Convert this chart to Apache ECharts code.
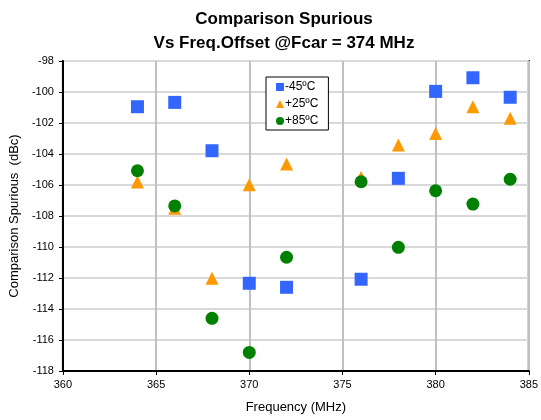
<!DOCTYPE html>
<html>
<head>
<meta charset="utf-8">
<script src="https://cdn.jsdelivr.net/npm/echarts@6/dist/echarts.min.js"></script>
<style>
  html, body { margin: 0; padding: 0; background: #fff; }
  #chart { width: 541px; height: 420px; }
</style>
</head>
<body>
<div id="chart"></div>
<script>
const freqs = [364, 366, 368, 370, 372, 376, 378, 380, 382, 384];
const minus45 = [-100.95, -100.67, -103.79, -112.34, -112.6, -112.08, -105.57, -99.96, -99.08, -100.34];
const plus25 = [-105.8, -107.5, -112.02, -105.98, -104.65, -105.5, -103.42, -102.67, -100.95, -101.7];
const plus85 = [-105.08, -107.35, -114.6, -116.8, -110.66, -105.79, -110.02, -106.37, -107.23, -105.63];
const seriesNames = ['-45ºC', '+25ºC', '+85ºC'];

const pairs = (ys) => freqs.map((f, i) => [f, ys[i]]);

const chart = echarts.init(document.getElementById('chart'));

const option = {
    animation: false,
    backgroundColor: '#fff',
    textStyle: { fontFamily: 'Liberation Sans, Arial, sans-serif' },
    title: {
        text: 'Comparison Spurious\nVs Freq.Offset @Fcar = 374 MHz',
        left: 279,
        top: 2,
        textAlign: 'center',
        textStyle: {
            fontSize: 17,
            fontWeight: 'bold',
            color: '#000',
            lineHeight: 24
        }
    },
    legend: {
        orient: 'vertical',
        left: 266,
        top: 77,
        padding: [4, 10, 3, 10],
        itemWidth: 8,
        itemHeight: 8,
        itemGap: 5,
        borderColor: '#000',
        borderWidth: 1,
        backgroundColor: '#fff',
        textStyle: { fontSize: 12, color: '#000', padding: [0, 0, 0, -4] },
        data: seriesNames
    },
    grid: {
        left: 60,
        right: 9,
        top: 61,
        bottom: 49,
        show: true,
        borderColor: '#000',
        borderWidth: 2
    },
    xAxis: {
        type: 'value',
        min: 360,
        max: 385,
        interval: 5,
        name: 'Frequency (MHz)',
        nameLocation: 'middle',
        nameGap: 30,
        nameTextStyle: { fontSize: 13, color: '#000' },
        axisLine: { lineStyle: { color: '#000', width: 2 } },
        axisTick: { show: true, length: 4, lineStyle: { color: '#000', width: 1 } },
        axisLabel: { fontSize: 11, color: '#000', margin: 8 },
        splitLine: { show: true, lineStyle: { color: '#c0c0c0', width: 2 } }
    },
    yAxis: {
        type: 'value',
        min: -118,
        max: -98,
        interval: 2,
        name: 'Comparison Spurious  (dBc)',
        nameLocation: 'middle',
        nameGap: 39,
        nameTextStyle: { fontSize: 13, color: '#000' },
        axisLine: { show: true, lineStyle: { color: '#000', width: 2 } },
        axisTick: { show: true, length: 4, lineStyle: { color: '#000', width: 1 } },
        axisLabel: { fontSize: 11, color: '#000', margin: 9 },
        splitLine: { show: true, lineStyle: { color: '#d9d9d9', width: 2 } }
    },
    series: [
        {
            name: seriesNames[0],
            type: 'scatter',
            symbol: 'rect',
            symbolSize: 13,
            itemStyle: { color: '#3366ff', opacity: 1 },
            data: pairs(minus45)
        },
        {
            name: seriesNames[1],
            type: 'scatter',
            symbol: 'triangle',
            symbolSize: 13,
            itemStyle: { color: '#ff9900', opacity: 1 },
            data: pairs(plus25)
        },
        {
            name: seriesNames[2],
            type: 'scatter',
            symbol: 'circle',
            symbolSize: 13,
            itemStyle: { color: '#008000', opacity: 1 },
            data: pairs(plus85)
        }
    ]
};

chart.setOption(option);
</script>
</body>
</html>
